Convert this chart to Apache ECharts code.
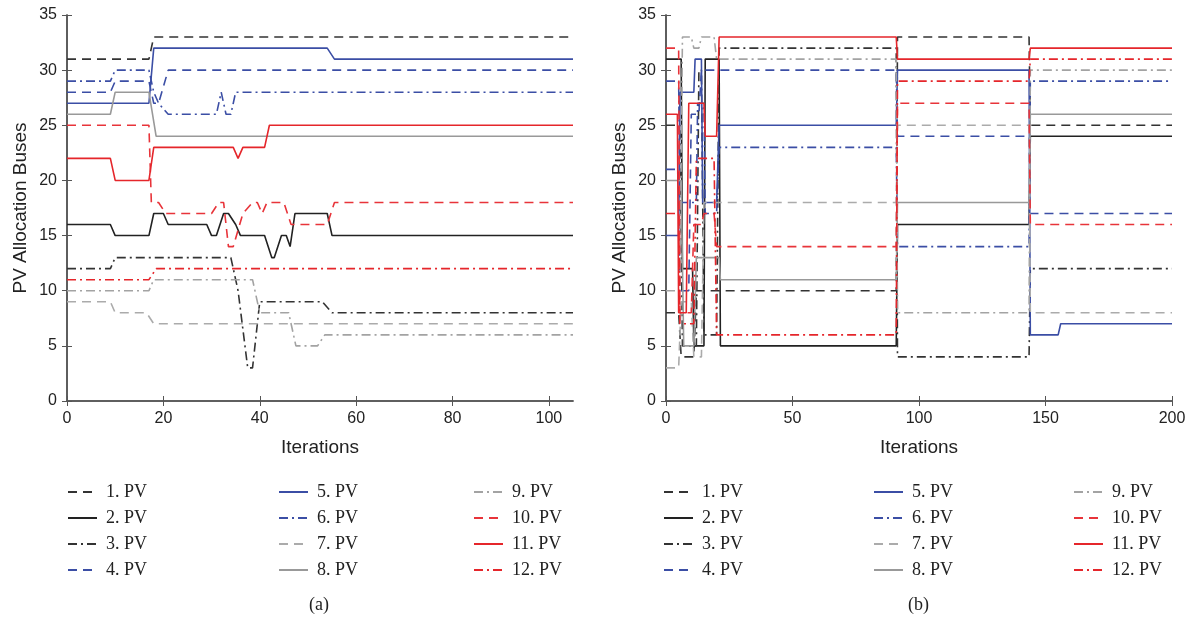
<!DOCTYPE html>
<html>
<head>
<meta charset="utf-8">
<script src="https://cdn.jsdelivr.net/npm/echarts@6/dist/echarts.min.js"></script>
<style>
  html, body { margin: 0; padding: 0; background: #fff; }
  #main { width: 1194px; height: 627px; }
</style>
</head>
<body>
<div id="main"></div>
<script>
// names of the 12 PV units
const pvNames = ['1. PV', '2. PV', '3. PV', '4. PV', '5. PV', '6. PV',
  '7. PV', '8. PV', '9. PV', '10. PV', '11. PV', '12. PV']

const yTicks = [0, 5, 10, 15, 20, 25, 30, 35]
const xTicksA = [0, 20, 40, 60, 80, 100]
const xTicksB = [0, 50, 100, 150, 200]

// (a) iterations / bus number
const a1 = [[0, 31], [17, 31], [18, 33], [105, 33]]
const a2 = [[0, 16], [9, 16], [10, 15], [17, 15], [18, 17], [20, 17], [21, 16], [29, 16], [30, 15], [31, 15],
  [32.5, 17], [33.5, 17], [35, 16], [36, 15], [41, 15], [42.5, 13], [43, 13], [44.5, 15], [45.5, 15],
  [46.3, 14], [47.3, 17], [54, 17], [55, 15], [105, 15]]
const a3 = [[0, 12], [9, 12], [10, 13], [34, 13], [35.5, 10], [37.5, 3], [38.5, 3], [40, 9], [53, 9], [55, 8], [105, 8]]
const a4 = [[0, 28], [9, 28], [10, 29], [17, 29], [18, 27], [19, 27], [21, 30], [105, 30]]
const a5 = [[0, 27], [17, 27], [18, 32], [54, 32], [55.5, 31], [105, 31]]
const a6 = [[0, 29], [9, 29], [10, 30], [17, 30], [18, 28], [19, 27], [21, 26], [31, 26], [32, 28], [33, 26],
  [34, 26], [35, 28], [105, 28]]
const a7 = [[0, 9], [9, 9], [10, 8], [16.5, 8], [18, 7], [105, 7]]
const a8 = [[0, 26], [9, 26], [10, 28], [17, 28], [18.5, 24], [105, 24]]
const a9 = [[0, 10], [17, 10], [18, 11], [38.5, 11], [40, 8], [46, 8], [47.5, 5], [52, 5], [53.5, 6], [105, 6]]
const a10 = [[0, 25], [17, 25], [17.5, 18], [19, 18], [20.5, 17], [30, 17], [31.5, 18], [32.5, 18], [33.5, 14],
  [34.5, 14], [36.5, 17], [38.5, 18], [39.5, 18], [40.5, 17], [41.5, 18], [45, 18], [46.5, 16], [54, 16],
  [55.5, 18], [105, 18]]
const a11 = [[0, 22], [9, 22], [10, 20], [17, 20], [18, 23], [34.5, 23], [35.5, 22], [36.5, 23], [41, 23],
  [42, 25], [105, 25]]
const a12 = [[0, 11], [17, 11], [18.5, 12], [105, 12]]

// (b)
const b1 = [[0, 8], [5, 8], [6, 4], [11, 4], [12, 10], [91, 10], [91.5, 33], [143.5, 33], [144, 25], [200, 25]]
const b2 = [[0, 31], [6, 31], [6.5, 12], [10.5, 12], [11, 5], [15, 5], [15.5, 31], [21, 31], [21.5, 5], [91, 5],
  [91.5, 16], [143.5, 16], [144, 24], [200, 24]]
const b3 = [[0, 25], [5.5, 25], [6.5, 5], [12, 5], [13, 30], [14, 30], [15, 6], [20, 6], [21, 32], [91, 32],
  [91.5, 4], [143.5, 4], [144, 12], [200, 12]]
const b4 = [[0, 21], [5, 21], [5.5, 10], [9, 10], [10, 26], [13, 26], [14, 30], [91, 30], [91.5, 24], [143.5, 24],
  [144, 17], [200, 17]]
const b5 = [[0, 15], [5, 15], [5.5, 28], [11, 28], [11.5, 31], [14, 31], [14.5, 18], [20, 18], [21, 25], [91, 25],
  [91.5, 30], [143.5, 30], [144, 6], [155, 6], [156, 7], [200, 7]]
const b6 = [[0, 29], [5, 29], [5.5, 18], [12, 18], [12.5, 27], [15, 27], [15.5, 17], [20, 17], [21, 23], [91, 23],
  [91.5, 14], [143.5, 14], [144, 29], [200, 29]]
const b7 = [[0, 3], [5, 3], [6, 9], [10, 9], [11, 4], [14, 4], [15, 18], [91, 18], [91.5, 25], [143.5, 25],
  [144, 8], [200, 8]]
const b8 = [[0, 20], [6, 20], [7, 5], [11, 5], [12, 13], [21, 13], [21.5, 11], [91, 11], [91.5, 18], [143.5, 18],
  [144, 26], [200, 26]]
const b9 = [[0, 10], [5.5, 10], [6.5, 33], [10, 33], [11, 32], [13, 32], [14, 33], [19, 33], [20, 31], [91, 31],
  [91.5, 8], [143.5, 8], [144, 30], [200, 30]]
const b10 = [[0, 32], [5, 32], [5.5, 8], [10, 8], [11, 16], [14, 16], [15, 17], [19, 17], [20, 14], [91, 14],
  [91.5, 27], [143.5, 27], [144, 16], [200, 16]]
const b11 = [[0, 26], [4.5, 26], [5, 8], [8, 8], [9, 27], [15, 27], [15.5, 24], [20, 24], [21, 33], [91, 33],
  [91.5, 31], [143.5, 31], [144, 32], [200, 32]]
const b12 = [[0, 17], [5, 17], [5.5, 7], [11, 7], [12, 22], [19, 22], [20, 6], [91, 6], [91.5, 29], [143.5, 29],
  [144, 31], [200, 31]]

const dataA = [a1, a2, a3, a4, a5, a6, a7, a8, a9, a10, a11, a12]
const dataB = [b1, b2, b3, b4, b5, b6, b7, b8, b9, b10, b11, b12]

const DASH = [9, 6]
const DASHDOT = [9, 4, 2, 4]
const lineStyles = [
  {color: '#333333', type: DASH},
  {color: '#222222', type: 'solid'},
  {color: '#333333', type: DASHDOT},
  {color: '#3b4ea5', type: DASH},
  {color: '#3b4ea5', type: 'solid'},
  {color: '#3b4ea5', type: DASHDOT},
  {color: '#ababab', type: DASH},
  {color: '#999999', type: 'solid'},
  {color: '#a3a3a3', type: DASHDOT},
  {color: '#e8343a', type: DASH},
  {color: '#e5262b', type: 'solid'},
  {color: '#e5262b', type: DASHDOT}
]

const axisFont = {fontFamily: 'Liberation Sans', fontSize: 16, color: '#222'}
const axisLine = {lineStyle: {color: '#555', width: 1.5}}

const mkX = (gridIndex, max, ticks, bottom) => ({
  type: 'value',
  gridIndex: gridIndex,
  position: bottom ? 'bottom' : 'top',
  min: 0,
  max: max,
  name: bottom ? 'Iterations' : '',
  nameLocation: 'middle',
  nameGap: 37,
  nameTextStyle: {fontFamily: 'Liberation Sans', fontSize: 19, color: '#222'},
  axisLine: axisLine,
  axisTick: {inside: true, length: 5, customValues: ticks, lineStyle: {color: '#555'}},
  axisLabel: {show: bottom, margin: 10, customValues: ticks, ...axisFont},
  splitLine: {show: false}
})

const mkY = (gridIndex, left) => ({
  type: 'value',
  gridIndex: gridIndex,
  position: left ? 'left' : 'right',
  min: 0,
  max: 35,
  interval: 5,
  name: left ? 'PV Allocation Buses' : '',
  nameLocation: 'middle',
  nameGap: 37,
  nameTextStyle: {fontFamily: 'Liberation Sans', fontSize: 19, color: '#222'},
  axisLine: axisLine,
  axisTick: {inside: true, length: 5, lineStyle: {color: '#555'}},
  axisLabel: {show: left, margin: 10, ...axisFont},
  splitLine: {show: false}
})

const series = []
dataA.forEach((d, i) => {
  series.push({
    name: pvNames[i], type: 'line', xAxisIndex: 0, yAxisIndex: 0, data: d,
    symbol: 'none', animation: false, lineStyle: {width: 1.6, ...lineStyles[i]}, itemStyle: {color: lineStyles[i].color}
  })
})
dataB.forEach((d, i) => {
  series.push({
    name: pvNames[i], type: 'line', xAxisIndex: 2, yAxisIndex: 2, data: d,
    symbol: 'none', animation: false, lineStyle: {width: 1.6, ...lineStyles[i]}, itemStyle: {color: lineStyles[i].color}
  })
})

const legendCol = (left, names) => ({
  orient: 'vertical',
  left: left,
  top: 478,
  itemWidth: 29,
  itemHeight: 14,
  itemGap: 8,
  selectedMode: false,
  data: names,
  // hide the marker circle, keep only the line sample
  itemStyle: {opacity: 0},
  textStyle: {fontFamily: 'Liberation Serif', fontSize: 18, color: '#222', padding: [0, 0, 0, 4]}
})

const chart = echarts.init(document.getElementById('main'))
chart.setOption({
  animation: false,
  grid: [
    {left: 67, top: 15, width: 506, height: 386},
    {left: 666, top: 15, width: 506, height: 386}
  ],
  xAxis: [mkX(0, 105, xTicksA, true), mkX(0, 105, xTicksA, false), mkX(1, 200, xTicksB, true), mkX(1, 200, xTicksB, false)],
  yAxis: [mkY(0, true), mkY(0, false), mkY(1, true), mkY(1, false)],
  legend: [
    legendCol(62, pvNames.slice(0, 4)),
    legendCol(273, pvNames.slice(4, 8)),
    legendCol(468, pvNames.slice(8, 12)),
    legendCol(658, pvNames.slice(0, 4)),
    legendCol(868, pvNames.slice(4, 8)),
    legendCol(1068, pvNames.slice(8, 12))
  ],
  graphic: [
    {type: 'text', left: 309, top: 596, style: {text: '(a)', font: '18px "Liberation Serif"', fill: '#222'}},
    {type: 'text', left: 908, top: 596, style: {text: '(b)', font: '18px "Liberation Serif"', fill: '#222'}}
  ],
  series: series
})
</script>
</body>
</html>
